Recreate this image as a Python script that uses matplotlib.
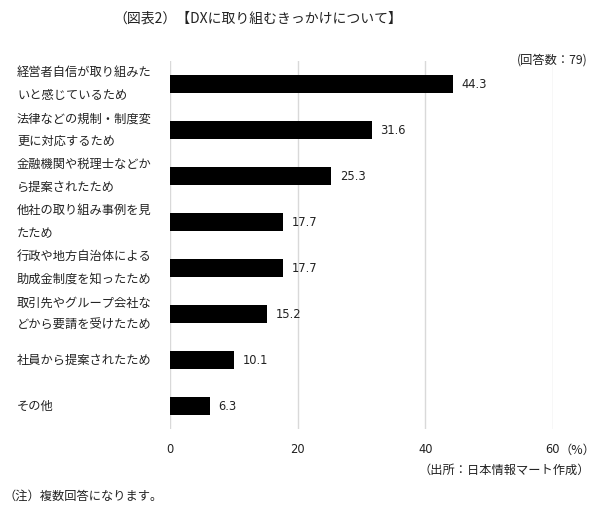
import matplotlib
matplotlib.use("Agg")
import matplotlib.pyplot as plt

plt.rcParams['font.family'] = ['Noto Sans CJK JP', 'DejaVu Sans']

categories = [
    "経営者自信が取り組みた\nいと感じているため",
    "法律などの規制・制度変\n更に対応するため",
    "金融機関や税理士などか\nら提案されたため",
    "他社の取り組み事例を見\nたため",
    "行政や地方自治体による\n助成金制度を知ったため",
    "取引先やグループ会社な\nどから要請を受けたため",
    "社員から提案されたため",
    "その他",
]
values = [44.3, 31.6, 25.3, 17.7, 17.7, 15.2, 10.1, 6.3]
xticks = [0, 20, 40, 60]
xtick_labels = ["0", "20", "40", "60"]

title = "（図表2）【DXに取り組むきっかけについて】"
n_note = "(回答数：79)"
source = "（出所：日本情報マート作成）"
note = "（注）複数回答になります。"
unit = "（%）"

fig = plt.figure(figsize=(6.0, 5.16), dpi=100)
ax = fig.add_axes([170/600, 1 - 429/516, (553 - 170)/600, (429 - 61)/516])

y = list(range(len(values)))
ax.barh(y, values, height=0.37, color="black", zorder=3)
ax.set_ylim(len(values) - 0.5, -0.5)
ax.set_xlim(0, 60)
ax.set_xticks(xticks)
ax.set_xticklabels(xtick_labels, fontsize=8.3, color="#222222", family="DejaVu Sans")
ax.tick_params(axis='x', length=0, pad=10)
ax.set_yticks([])
for s in ax.spines.values():
    s.set_visible(False)
ax.grid(axis='x', color="#d9d9d9", linewidth=1.0, zorder=0)

for yi, v in zip(y, values):
    ax.annotate(f"{v:.1f}", (v, yi), xytext=(6, 0), textcoords="offset points",
                va="center", ha="left", fontsize=8.3, color="#222222",
                family="DejaVu Sans")

for yi, c in zip(y, categories):
    ax.annotate(c, (0, yi), xycoords=("figure fraction", "data"),
                xytext=(17, 0), textcoords="offset pixels",
                va="center", ha="left", fontsize=8.8, color="#222222",
                linespacing=1.95)

fig.text(559/600, 1 - 450/516, unit, ha="left", va="center", fontsize=8.8, color="#222222")
fig.text(258/600, 1 - 19/516, title, ha="center", va="center", fontsize=10, color="#222222")
fig.text(588/600, 1 - 60/516, n_note, ha="right", va="center", fontsize=8.8, color="#222222")
fig.text(590/600, 1 - 470/516, source, ha="right", va="center", fontsize=8.8, color="#222222")
fig.text(3/600, 1 - 496/516, note, ha="left", va="center", fontsize=8.8, color="#222222")

fig.savefig("out.png", dpi=100, facecolor="white")
